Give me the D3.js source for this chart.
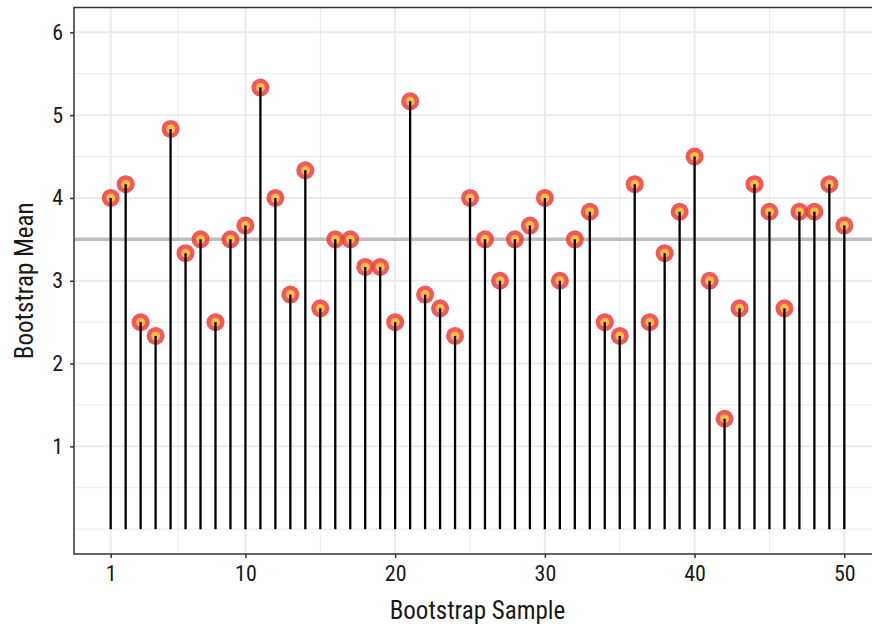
<!DOCTYPE html>
<html>
<head>
<meta charset="utf-8">
<script src="https://cdn.jsdelivr.net/npm/d3@7"></script>
<style>
  html, body { margin: 0; padding: 0; background: #fff; }
  svg { display: block; }
  text { font-family: "Liberation Sans Narrow", "Roboto Condensed", "Arial Narrow", "Liberation Sans", sans-serif; fill: #1a1a1a; }
</style>
</head>
<body>
<svg id="chart" width="872" height="626"></svg>
<script>
const samples = d3.range(1, 51);
const means = [
  4.0, 4.1667, 2.5, 2.3333, 4.8333, 3.3333, 3.5, 2.5, 3.5, 3.6667,
  5.3333, 4.0, 2.8333, 4.3333, 2.6667, 3.5, 3.5, 3.1667, 3.1667, 2.5,
  5.1667, 2.8333, 2.6667, 2.3333, 4.0, 3.5, 3.0, 3.5, 3.6667, 4.0,
  3.0, 3.5, 3.8333, 2.5, 2.3333, 4.1667, 2.5, 3.3333, 3.8333, 4.5,
  3.0, 1.3333, 2.6667, 4.1667, 3.8333, 2.6667, 3.8333, 3.8333, 4.1667, 3.6667
];
const xTicks = [1, 10, 20, 30, 40, 50];
const xMinor = [5.5, 15, 25, 35, 45];
const yTicks = [1, 2, 3, 4, 5, 6];
const yMinor = [0, 0.5, 1.5, 2.5, 3.5, 4.5, 5.5];
const refLine = 3.5;
const xTitle = "Bootstrap Sample";
const yTitle = "Bootstrap Mean";

const data = samples.map((s, i) => ({ s, v: means[i] }));

const svg = d3.select("#chart");
const panel = { left: 74, right: 881, top: 7.5, bottom: 554 };

const x = d3.scaleLinear().domain([-1.45, 52.45]).range([panel.left, panel.right]);
const y = d3.scaleLinear().domain([-0.3, 6.3]).range([panel.bottom, panel.top]);

const g = svg.append("g");

// grid
g.selectAll(".ymin").data(yMinor).join("line")
  .attr("x1", panel.left).attr("x2", panel.right)
  .attr("y1", d => y(d)).attr("y2", d => y(d))
  .attr("stroke", "#ebebeb").attr("stroke-width", 1);
g.selectAll(".xmin").data(xMinor).join("line")
  .attr("y1", panel.top).attr("y2", panel.bottom)
  .attr("x1", d => x(d)).attr("x2", d => x(d))
  .attr("stroke", "#ebebeb").attr("stroke-width", 1);
g.selectAll(".ymaj").data(yTicks).join("line")
  .attr("x1", panel.left).attr("x2", panel.right)
  .attr("y1", d => y(d)).attr("y2", d => y(d))
  .attr("stroke", "#ebebeb").attr("stroke-width", 2);
g.selectAll(".xmaj").data(xTicks).join("line")
  .attr("y1", panel.top).attr("y2", panel.bottom)
  .attr("x1", d => x(d)).attr("x2", d => x(d))
  .attr("stroke", "#ebebeb").attr("stroke-width", 2);

// reference line
g.append("line")
  .attr("x1", panel.left).attr("x2", panel.right)
  .attr("y1", y(refLine)).attr("y2", y(refLine))
  .attr("stroke", "#bebebe").attr("stroke-width", 3.5);

// points
g.selectAll(".outer").data(data).join("circle")
  .attr("cx", d => x(d.s)).attr("cy", d => y(d.v)).attr("r", 9)
  .attr("fill", "#ef3b3b").attr("fill-opacity", 0.85);
g.selectAll(".inner").data(data).join("circle")
  .attr("cx", d => x(d.s)).attr("cy", d => y(d.v)).attr("r", 4.5)
  .attr("fill", "#f7bd45");

// stems
g.selectAll(".stem").data(data).join("line")
  .attr("x1", d => x(d.s)).attr("x2", d => x(d.s))
  .attr("y1", y(0)).attr("y2", d => y(d.v))
  .attr("stroke", "#000").attr("stroke-width", 2.3);

// panel border
g.append("rect")
  .attr("x", panel.left).attr("y", panel.top)
  .attr("width", panel.right - panel.left).attr("height", panel.bottom - panel.top)
  .attr("fill", "none").attr("stroke", "#333").attr("stroke-width", 1.5);

// axes
const xAxis = d3.axisBottom(x).tickValues(xTicks).tickSize(4).tickPadding(7).tickFormat(d3.format("d"));
const yAxis = d3.axisLeft(y).tickValues(yTicks).tickSize(4).tickPadding(7).tickFormat(d3.format("d"));

const gx = svg.append("g").attr("transform", `translate(0,${panel.bottom})`).call(xAxis);
const gy = svg.append("g").attr("transform", `translate(${panel.left},0)`).call(yAxis);
[gx, gy].forEach(a => {
  a.select(".domain").remove();
  a.selectAll(".tick line").attr("stroke", "#333").attr("stroke-width", 1.5);
  a.selectAll(".tick text").attr("font-size", 22).attr("fill", "#1a1a1a")
    .style("font-family", '"Liberation Sans Narrow", "Roboto Condensed", "Arial Narrow", "Liberation Sans", sans-serif');
});

svg.append("text")
  .attr("x", (panel.left + panel.right) / 2).attr("y", 619)
  .attr("text-anchor", "middle").attr("font-size", 25)
  .text(xTitle);
svg.append("text")
  .attr("transform", `translate(33,${(panel.top + panel.bottom) / 2}) rotate(-90)`)
  .attr("text-anchor", "middle").attr("font-size", 25)
  .text(yTitle);
</script>
</body>
</html>
